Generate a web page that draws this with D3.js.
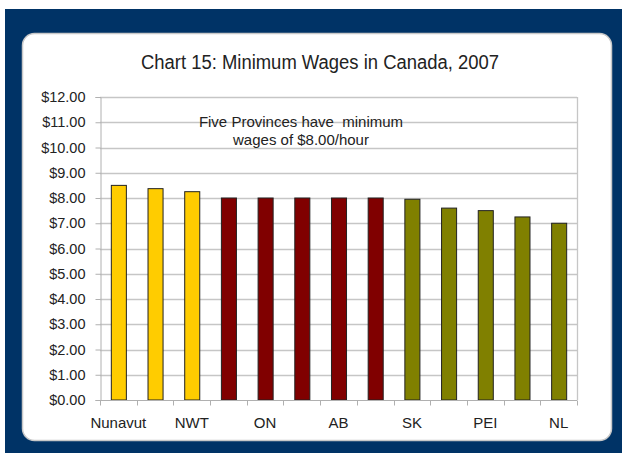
<!DOCTYPE html>
<html><head><meta charset="utf-8">
<script src="https://cdn.jsdelivr.net/npm/d3@7"></script>
<style>html,body{margin:0;padding:0;background:#fff;}svg{display:block;}</style>
</head><body>
<script>
const categories = ["Nunavut","Yukon","NWT","BC","ON","MB","AB","QC","SK","NS","PEI","NB","NL"];
const shownLabels = ["Nunavut","NWT","ON","AB","SK","PEI","NL"];
const wages = [8.50,8.37,8.25,8.00,8.00,8.00,8.00,8.00,7.95,7.60,7.50,7.25,7.00];
const groups = ["territory","territory","territory","eight","eight","eight","eight","eight","other","other","other","other","other"];
const groupColors = {territory:"#FFCC00", eight:"#800000", other:"#808000"};
const yTicks = [0,1,2,3,4,5,6,7,8,9,10,11,12];
const title = "Chart 15: Minimum Wages in Canada, 2007";
const note = ["Five Provinces have  minimum","wages of $8.00/hour"];

const W=622,H=453;
const svg=d3.select("body").append("svg").attr("width",W).attr("height",H);
svg.append("rect").attr("x",5).attr("y",9).attr("width",W-5).attr("height",H-9).attr("fill","#003366");
svg.append("rect").attr("x",22.5).attr("y",33.5).attr("width",589).attr("height",407).attr("rx",12)
  .attr("fill","#fff").attr("stroke","#c8c8c8").attr("stroke-width",1.5);

const font="'Liberation Sans', Arial, sans-serif";
svg.append("text").attr("x",320).attr("y",69).attr("text-anchor","middle")
  .attr("font-family",font).attr("font-size",20).attr("fill","#222")
  .attr("textLength",358).attr("lengthAdjust","spacingAndGlyphs").text(title);

const m={l:100,r:577,t:97,b:400};
const x=d3.scaleBand().domain(categories).range([m.l,m.r]).paddingInner(0.59).paddingOuter(0.295);
const xb=d3.scaleBand().domain(categories).range([m.l,m.r]);
const y=d3.scaleLinear().domain([0,12]).range([m.b,m.t]);

const g=svg.append("g");
g.selectAll("line.grid").data(yTicks.filter(d=>d>0)).join("line")
  .attr("x1",m.l).attr("x2",m.r).attr("y1",d=>Math.round(y(d))+0.5).attr("y2",d=>Math.round(y(d))+0.5)
  .attr("stroke","#c6c6c6").attr("stroke-width",1.3);
g.append("line").attr("x1",m.r+0.5).attr("x2",m.r+0.5).attr("y1",m.t).attr("y2",m.b).attr("stroke","#c6c6c6").attr("stroke-width",1.3);

const yAxis=d3.axisLeft(y).tickValues(yTicks).tickSize(5).tickPadding(10).tickFormat(d=>"$"+d3.format(".2f")(d));
const ya=svg.append("g").attr("transform",`translate(${m.l+0.5},0)`).call(yAxis);
ya.select(".domain").attr("stroke","#b0b0b0");
ya.selectAll(".tick line").attr("stroke","#b0b0b0");
ya.selectAll("text").attr("font-family",font).attr("font-size",14.5).attr("fill","#222");

svg.selectAll("rect.bar").data(categories).join("rect").attr("class","bar")
  .attr("x",d=>x(d)+0.5).attr("width",x.bandwidth())
  .attr("y",(d,i)=>y(wages[i])).attr("height",(d,i)=>m.b-y(wages[i]))
  .attr("fill",(d,i)=>groupColors[groups[i]]).attr("stroke","#222").attr("stroke-width",1);

const xa=svg.append("g").attr("transform",`translate(0,${m.b+0.5})`);
xa.append("line").attr("x1",m.l).attr("x2",m.r).attr("stroke","#b0b0b0");
const bounds=categories.map(c=>xb(c)).concat([m.r]);
xa.selectAll("line.t").data(bounds).join("line").attr("x1",d=>Math.round(d)+0.5).attr("x2",d=>Math.round(d)+0.5)
  .attr("y1",0).attr("y2",5).attr("stroke","#b0b0b0");
xa.selectAll("text").data(shownLabels).join("text")
  .attr("x",d=>xb(d)+xb.bandwidth()/2).attr("y",27).attr("text-anchor","middle")
  .attr("font-family",font).attr("font-size",15).attr("fill","#222").text(d=>d);

svg.selectAll("text.note").data(note).join("text").attr("class","note")
  .attr("x",301).attr("y",(d,i)=>127+i*18).attr("text-anchor","middle")
  .attr("font-family",font).attr("font-size",15).attr("fill","#222").style("white-space","pre").text(d=>d);
</script>
</body></html>
